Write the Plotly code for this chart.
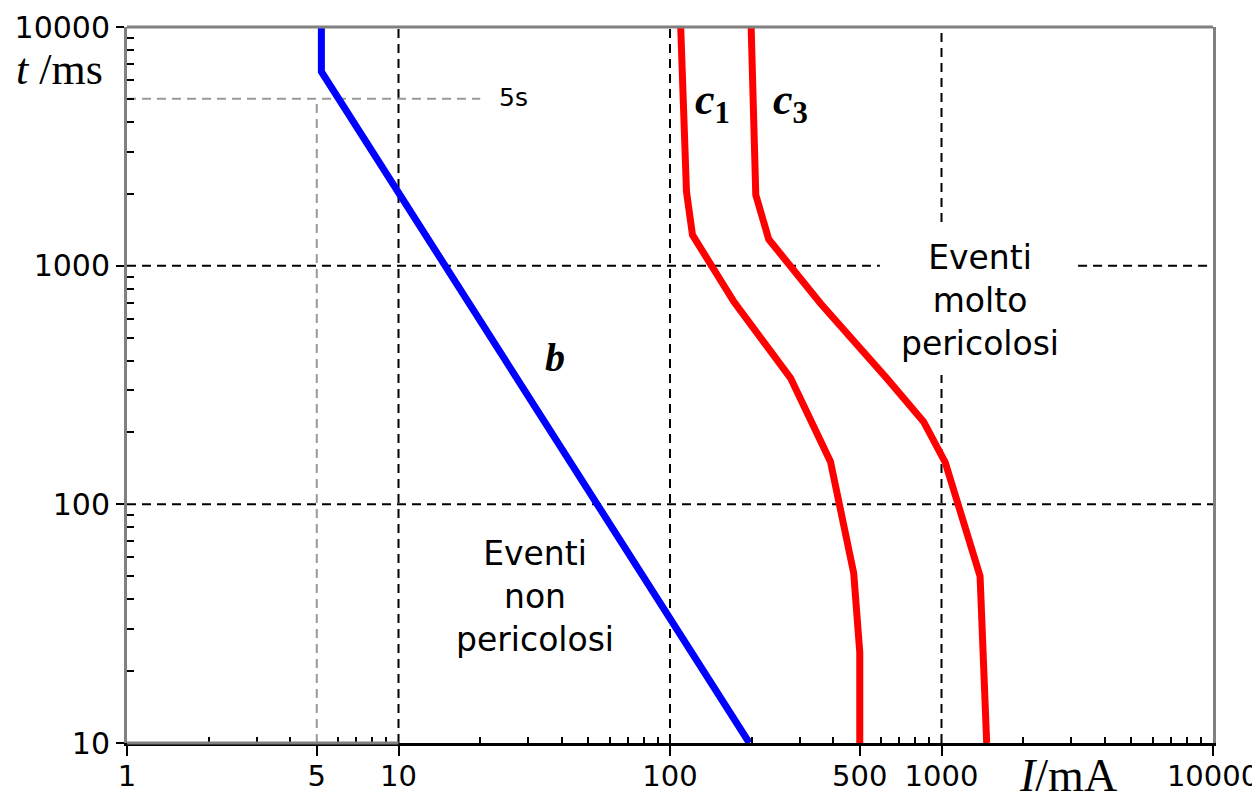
import numpy as np
import plotly.graph_objects as go

# ---- data ----
b_I = [5.2, 5.2, 196]
b_t = [10000, 6500, 10]

c1_I = [109.5, 115, 121, 172, 278, 390, 475, 500, 500]
c1_t = [10000, 2040, 1345, 705, 338, 151, 51.5, 24, 10]

c3_I = [199, 207, 231, 358, 629, 859, 1032, 1387, 1467]
c3_t = [10000, 1980, 1290, 696, 337, 222, 150, 50, 10]

x_tickvals = [1, 5, 10, 100, 500, 1000, 10000]
y_tickvals = [10, 100, 1000, 10000]
x_minor = [m * d for d in (1, 10, 100, 1000) for m in range(2, 10) if m * d not in (5, 500)]
y_minor = [m * d for d in (10, 100, 1000) for m in range(2, 10)]

SANS = "DejaVu Sans, Verdana, sans-serif"
SERIF = "Liberation Serif, Times New Roman, serif"

fig = go.Figure()

blk = dict(color="black", width=2, dash="9px,6px")
gry = dict(color="#999999", width=2, dash="9px,6px")

def seg(x, y, line):
    fig.add_trace(go.Scatter(x=x, y=y, mode="lines", line=line,
                             hoverinfo="skip", showlegend=False))

# reference grid lines (dashed)
seg([10, 10], [10, 10000], blk)
seg([100, 100], [10, 10000], blk)
seg([1000, 1000, None, 1000, 1000], [10, 348, None, 1524, 10000], blk)
seg([1, 593, None, 3184, 10000], [1000, 1000, None, 1000, 1000], blk)
seg([1, 10000], [100, 100], blk)
# 5 mA / 5 s guides
seg([5, 5], [10, 5000], gry)
seg([1, 20], [5000, 5000], gry)

# curves
seg(b_I, b_t, dict(color="#0000FF", width=7))
seg(c1_I, c1_t, dict(color="#FF0000", width=7))
seg(c3_I, c3_t, dict(color="#FF0000", width=7))

def ann(xv, yv, text, size, family=SANS):
    fig.add_annotation(x=np.log10(xv), y=np.log10(yv), xref="x", yref="y",
                       text=text, showarrow=False, xanchor="center", yanchor="middle",
                       font=dict(size=size, family=family, color="black"))

ann(31.8, 41, "Eventi<br>non<br>pericolosi", 33)
ann(1387, 718, "Eventi<br>molto<br>pericolosi", 33)
ann(37.7, 414, "<b><i>b</i></b>", 40, SERIF)
ann(143, 4810, "<b><i>c</i><sub>1</sub></b>", 44, SERIF)
ann(277, 4810, "<b><i>c</i><sub>3</sub></b>", 44, SERIF)
ann(26.5, 5090, "5s", 25)

fig.add_annotation(x=-0.062, y=0.94, xref="paper", yref="paper",
                   xanchor="center", yanchor="middle",
                   text="<i>t</i> /ms", showarrow=False,
                   font=dict(size=44, family=SERIF, color="black"))
fig.add_annotation(x=0.8665, y=-0.045, xref="paper", yref="paper",
                   xanchor="center", yanchor="middle",
                   text="<i>I</i>/mA", showarrow=False,
                   font=dict(size=46, family=SERIF, color="black"))

# frame pieces
fig.add_shape(type="line", xref="paper", yref="paper", x0=0, x1=1, y0=1, y1=1,
              line=dict(color="#808080", width=3), layer="above")
fig.add_shape(type="line", xref="paper", yref="paper", x0=0, x1=0.25, y0=0, y1=0,
              line=dict(color="#808080", width=3), layer="above")

fig.update_xaxes(type="log", range=[0, 4], showgrid=False, zeroline=False,
                 automargin=False, ticklabeloverflow="allow",
                 showline=True, linecolor="black", linewidth=3, mirror=False,
                 tickmode="array", tickvals=x_tickvals,
                 ticktext=[str(v) for v in x_tickvals],
                 ticks="outside", ticklen=10, tickwidth=2, tickcolor="black",
                 ticklabelstandoff=-5,
                 tickfont=dict(size=29, family=SANS, color="black"),
                 minor=dict(tickmode="array", tickvals=x_minor, ticks="inside",
                            ticklen=6, tickwidth=2, tickcolor="black", showgrid=False))
fig.update_yaxes(type="log", range=[1, 4], showgrid=False, zeroline=False,
                 automargin=False, ticklabeloverflow="allow",
                 showline=True, linecolor="#808080", linewidth=3, mirror=True,
                 tickmode="array", tickvals=y_tickvals,
                 ticktext=[str(v) for v in y_tickvals],
                 ticks="outside", ticklen=8, tickwidth=2, tickcolor="black",
                 tickfont=dict(size=30, family=SANS, color="black"),
                 minor=dict(tickmode="array", tickvals=y_minor, ticks="inside",
                            ticklen=7, tickwidth=2, tickcolor="black", showgrid=False))

# page body has an 8px default margin, so the figure is 8px smaller
fig.update_layout(width=1252, height=792, autosize=False,
                  margin=dict(l=119, r=47, t=19, b=57),
                  paper_bgcolor="white", plot_bgcolor="white",
                  showlegend=False)

fig.write_html("out.html")
